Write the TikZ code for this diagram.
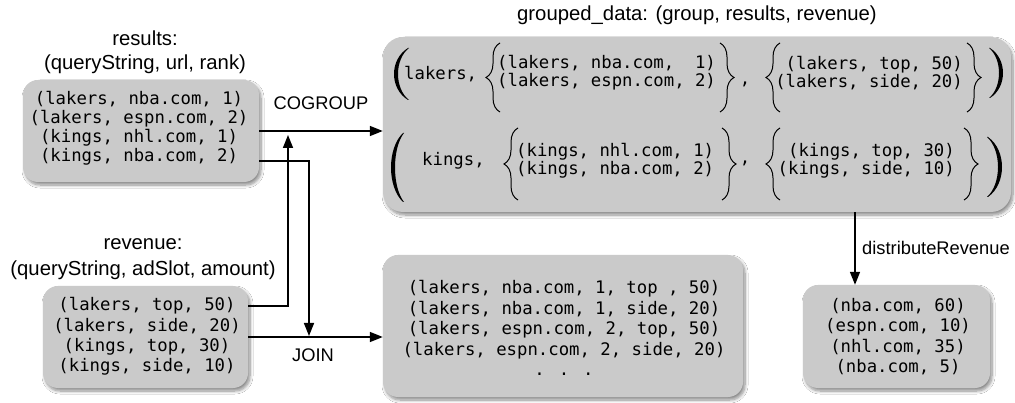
\documentclass[tikz,border=0pt]{standalone}
\usepackage{fontspec}
\setmainfont{Liberation Sans}
\newfontfamily\monof{DejaVu Sans Mono}
\usetikzlibrary{arrows.meta,decorations.pathreplacing,shadows.blur}
\definecolor{boxgray}{RGB}{202,202,202}
\newcommand\monosz[1]{\monof\fontsize{17.3}{#1}\selectfont}
% #1 x of ends, #2 y top, #3 y bottom, #4 signed depth (neg = opening paren)
\newcommand\mydelim[4]{%
  \pgfmathsetmacro\dsg{((#4)<0)?1:-1}%
  \pgfmathsetmacro\cxo{#1+4/3*(#4)}%
  \pgfmathsetmacro\cxi{#1+\dsg+4/3*((#4)+3*\dsg)}%
  \pgfmathsetmacro\hq{((#3)-(#2))*0.22}%
  \pgfmathsetmacro\xin{#1+\dsg}%
  \pgfmathsetmacro\ya{#2+\hq}%
  \pgfmathsetmacro\yb{#3-\hq}%
  \fill (#1,#2) .. controls (\cxo,\ya) and (\cxo,\yb) .. (#1,#3)
     -- (\xin,#3) .. controls (\cxi,\yb) and (\cxi,\ya) .. (\xin,#2) -- cycle;}
\begin{document}
\begin{tikzpicture}[x=1pt,y=-1pt,
  box/.style={fill=boxgray, draw=none, rounded corners=15pt, inner sep=0pt,
     blur shadow={shadow xshift=2pt,shadow yshift=-3pt,shadow blur radius=3pt,shadow blur steps=8,shadow opacity=45}},
  mono/.style={inner sep=0pt, font=\monosz{18}},
  title/.style={inner sep=0pt, align=center, font=\fontsize{20.3}{24}\selectfont},
  elabel/.style={inner sep=0pt, font=\fontsize{18.3}{22}\selectfont},
  arr/.style={line width=1.5pt, -{Triangle[length=13pt,width=10pt]}},
  brc/.style={decorate, decoration={brace,amplitude=14pt}, line width=1pt}]
\useasboundingbox (0,0) rectangle (1015,403);
\fill[white] (0,0) rectangle (1015,403);

% boxes
\node[box, minimum width=236pt, minimum height=102pt] (results) at (141,131) {};
\node[box, minimum width=205pt, minimum height=102pt] (revenue) at (145.5,337) {};
\node[box, minimum width=628pt, minimum height=175pt, rounded corners=20pt] (grouped) at (697,124.5) {};
\node[box, minimum width=360pt, minimum height=142pt] (joined) at (563,326) {};
\node[box, minimum width=187pt, minimum height=103pt] (final) at (896.5,336.5) {};

% box texts
\node[mono, align=center, font=\monosz{19}] (resultsText) at (139,128.5)
  {(lakers, nba.com, 1)\\(lakers, espn.com, 2)\\(kings, nhl.com, 1)\\(kings, nba.com, 2)};
\node[mono, align=center, font=\monosz{20.3}] (revenueText) at (147,336.5)
  {(lakers, top, 50)\\(lakers, side, 20)\\(kings, top, 30)\\(kings, side, 10)};
\node[mono, align=center, font=\monosz{20.5}] (joinedText) at (564,328)
  {(lakers, nba.com, 1, top , 50)\\(lakers, nba.com, 1, side, 20)\\(lakers, espn.com, 2, top, 50)\\(lakers, espn.com, 2, side, 20)\\. . .};
\node[mono, align=center, font=\monosz{20.3}] (finalText) at (898,336.5)
  {(nba.com, 60)\\(espn.com, 10)\\(nhl.com, 35)\\(nba.com, 5)};

% grouped content
\mydelim{408}{48}{100}{-14}
\mydelim{403}{133}{202}{-12}
\mydelim{990}{48}{98}{13}
\mydelim{988}{137}{197}{14}
\node[mono, anchor=west] (lakersKey) at (404,74) {lakers,};
\node[mono, anchor=west] (kingsKey) at (422,161) {kings,};
\node[mono, align=left, anchor=west] (lakersRes) at (497,73) {(lakers, nba.com,\ \ 1)\\(lakers, espn.com, 2)};
\node[mono, align=right, anchor=east] (lakersRev) at (963,73) {(lakers, top, 50)\\(lakers, side, 20)};
\node[mono, align=left, anchor=west] (kingsRes) at (516,161) {(kings, nhl.com, 1)\\(kings, nba.com, 2)};
\node[mono, align=right, anchor=east] (kingsRev) at (955,161) {(kings, top, 30)\\(kings, side, 10)};
\node[mono, anchor=base] (comma1) at (745,85) {,};
\node[mono, anchor=base] (comma2) at (745,164) {,};
\draw[brc] (500,112) -- (500,43);
\draw[brc] (720,43) -- (720,112);
\draw[brc] (780,112) -- (780,43);
\draw[brc] (967,43) -- (967,112);
\draw[brc] (518,200) -- (518,128);
\draw[brc] (722,128) -- (722,200);
\draw[brc] (780,200) -- (780,128);
\draw[brc] (964,128) -- (964,200);

% labels
\node[title] (resultsLabel) at (145,52) {results:\\(queryString, url, rank)};
\node[title, font=\fontsize{20.3}{25.5}\selectfont] (revenueLabel) at (143,259) {revenue:\\(queryString, adSlot, amount)};
\node[title] (groupedLabel) at (697,15) {grouped\_data: (group, results, revenue)};
\node[elabel] (cogroupLabel) at (321,103) {COGROUP};
\node[elabel] (joinLabel) at (313,355) {JOIN};
\node[elabel, anchor=west] (distLabel) at (862,248) {distributeRevenue};

% connectors
\coordinate (upEnd) at (288,135);
\coordinate (downEnd) at (309,336);
\coordinate (distX) at (855,0);
\draw[arr] (results.east) -- (results.east -| grouped.west);
\draw[arr] ([yshift=31pt]revenue.east) -| (upEnd);
\draw[arr] ([yshift=-30pt]results.east) -| (downEnd);
\draw[arr] (revenue.east) -- (revenue.east -| joined.west);
\draw[arr] (distX |- grouped.south) -- (distX |- final.north);
\end{tikzpicture}
\end{document}
